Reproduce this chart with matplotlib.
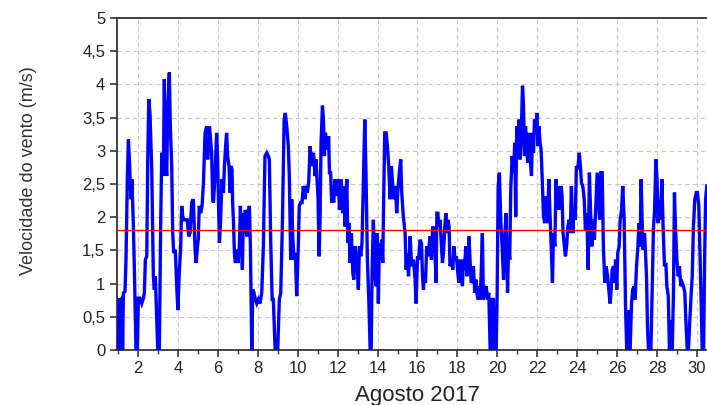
import matplotlib
matplotlib.use("Agg")
import matplotlib.pyplot as plt
from matplotlib.ticker import MultipleLocator, FuncFormatter

plt.rcParams['font.family'] = ['Liberation Sans', 'DejaVu Sans']

# Time (day of August 2017) and wind speed (m/s)
days = [
    1.00, 1.07, 1.10, 1.15, 1.20, 1.23, 1.27, 1.35, 1.40, 1.47, 1.52, 1.57, 1.60, 1.65, 1.70,
    1.77, 1.82, 1.87, 1.90, 1.97, 2.02, 2.10, 2.19, 2.27, 2.32, 2.37, 2.44, 2.49, 2.54, 2.60,
    2.69, 2.77, 2.82, 2.87, 2.94, 2.99, 3.07, 3.14, 3.19, 3.27, 3.32, 3.37, 3.44, 3.49, 3.57,
    3.62, 3.69, 3.74, 3.79, 3.87, 3.94, 4.00, 4.06, 4.14, 4.19, 4.24, 4.31, 4.41, 4.47, 4.54,
    4.61, 4.69, 4.77, 4.86, 4.91, 4.98, 5.02, 5.07, 5.14, 5.21, 5.28, 5.36, 5.44, 5.49, 5.58,
    5.69, 5.74, 5.78, 5.83, 5.89, 5.94, 5.99, 6.04, 6.08, 6.14, 6.21, 6.28, 6.33, 6.39, 6.44,
    6.49, 6.56, 6.61, 6.66, 6.71, 6.74, 6.78, 6.83, 6.88, 6.95, 7.01, 7.08, 7.13, 7.18, 7.23,
    7.28, 7.33, 7.38, 7.45, 7.51, 7.58, 7.63, 7.70, 7.75, 7.81, 7.88, 7.95, 8.03, 8.11, 8.20,
    8.28, 8.36, 8.45, 8.53, 8.58, 8.65, 8.72, 8.78, 8.87, 9.00, 9.08, 9.15, 9.23, 9.32, 9.38,
    9.45, 9.53, 9.58, 9.65, 9.70, 9.75, 9.82, 9.88, 9.95, 10.03, 10.08, 10.15, 10.22, 10.28, 10.37,
    10.42, 10.48, 10.55, 10.62, 10.70, 10.79, 10.87, 10.92,
    11.02, 11.07, 11.12, 11.17, 11.24, 11.29, 11.34, 11.39, 11.45, 11.50, 11.55, 11.59, 11.65,
    11.70, 11.75, 11.80, 11.87, 11.96, 12.04, 12.09, 12.16, 12.21, 12.26, 12.32, 12.37, 12.46,
    12.51, 12.57, 12.62, 12.69, 12.76, 12.81, 12.87, 12.96, 13.04, 13.09, 13.16, 13.22, 13.29,
    13.36, 13.42, 13.49, 13.56, 13.63, 13.68, 13.73, 13.79, 13.86, 13.93, 13.99, 14.04, 14.09,
    14.16, 14.21, 14.26, 14.31, 14.36, 14.43, 14.49, 14.56, 14.63, 14.69, 14.76, 14.83, 14.89,
    14.96, 15.01, 15.09, 15.16, 15.21, 15.29, 15.38, 15.43, 15.49, 15.55, 15.63,
    15.71, 15.80, 15.88, 15.93, 16.00, 16.06, 16.13, 16.20, 16.25, 16.30, 16.35, 16.40, 16.46,
    16.51, 16.58, 16.63, 16.70, 16.76, 16.83, 16.88, 16.93, 16.97, 17.02, 17.07, 17.13, 17.20,
    17.25, 17.30, 17.37, 17.42, 17.47, 17.52, 17.58, 17.63, 17.70, 17.77, 17.82, 17.88, 17.95,
    18.02, 18.07, 18.13, 18.18, 18.25, 18.30, 18.35, 18.42, 18.47, 18.53, 18.58, 18.63, 18.69,
    18.75, 18.80, 18.87, 18.92, 18.97, 19.04, 19.09, 19.14, 19.19, 19.25, 19.30, 19.37, 19.44,
    19.50, 19.57, 19.64, 19.69, 19.74, 19.80, 19.87, 19.94, 19.99, 20.04, 20.10, 20.17, 20.24,
    20.31, 20.37, 20.44, 20.51, 20.56, 20.62, 20.67, 20.74, 20.81, 20.87,
    20.92, 20.97, 21.04, 21.09, 21.14, 21.19, 21.26, 21.31, 21.36, 21.41, 21.47, 21.52, 21.57,
    21.64, 21.71, 21.76, 21.81, 21.86, 21.92, 21.98, 22.03, 22.08, 22.14, 22.19, 22.26, 22.31,
    22.38, 22.44, 22.51, 22.58, 22.64, 22.71, 22.76, 22.81, 22.88, 22.94, 22.99, 23.06, 23.13,
    23.19, 23.24, 23.29, 23.36, 23.41, 23.48, 23.53, 23.60, 23.65, 23.71, 23.78, 23.83, 23.90,
    23.96, 24.03, 24.10, 24.16, 24.21, 24.28, 24.35, 24.41, 24.48, 24.55, 24.61, 24.66, 24.73,
    24.80, 24.86, 24.93, 25.00, 25.05, 25.12, 25.18, 25.25, 25.31, 25.38, 25.45, 25.52, 25.58,
    25.65, 25.70,
    25.75, 25.82, 25.87, 25.92, 25.98, 26.03, 26.10, 26.15, 26.22, 26.28, 26.35, 26.42, 26.48,
    26.53, 26.60, 26.65, 26.72, 26.78, 26.85, 26.90, 26.97, 27.04, 27.09, 27.15, 27.20, 27.25,
    27.30, 27.37, 27.42, 27.47, 27.52, 27.57, 27.69, 27.75, 27.82, 27.87, 27.94, 28.00, 28.05,
    28.12, 28.17, 28.24, 28.30, 28.37, 28.44, 28.49, 28.56, 28.62, 28.69, 28.76, 28.82, 28.87,
    28.92, 28.99, 29.06, 29.12, 29.19, 29.26, 29.32, 29.39, 29.44, 29.51, 29.57, 29.64, 29.71,
    29.76, 29.82, 29.89, 29.96, 30.02, 30.09, 30.14, 30.21, 30.26, 30.33, 30.38, 30.43, 30.49,
]

speed = [
    0.00, 0.78, 0.00, 0.76, 0.78, 0.00, 0.86, 0.88, 1.36, 2.62, 3.17, 2.87, 2.62, 2.27, 2.57,
    1.86, 1.21, 0.45, 0.00, 0.00, 0.78, 0.78, 0.70, 0.78, 0.86, 1.36, 1.41, 2.87, 3.78, 3.57,
    2.72, 1.11, 0.91, 1.11, 0.45, 0.00, 0.00, 1.96, 2.97, 2.62, 4.08, 2.97, 2.62, 3.63, 4.18,
    3.37, 2.77, 1.76, 1.46, 1.51, 0.96, 0.60, 1.11, 1.56, 2.17, 2.01, 1.96, 1.96, 1.96, 1.71,
    1.76, 2.22, 2.27, 1.51, 1.31, 1.56, 1.66, 2.17, 2.06, 2.17, 2.52, 3.27, 3.37, 2.87, 3.37,
    2.97, 2.27, 2.22, 2.47, 2.87, 3.27, 2.87, 2.11, 1.61, 1.96, 2.57, 2.37, 2.77, 3.07, 3.27,
    2.92, 2.77, 2.37, 2.77, 2.72, 2.22, 1.96, 1.46, 1.31, 1.51, 1.31, 1.56, 2.17, 1.76, 1.21,
    2.06, 1.76, 2.11, 1.71, 2.06, 2.17, 1.56, 0.00, 0.91, 0.86, 0.76, 0.70, 0.76, 0.70, 0.86,
    1.56, 2.92, 2.97, 2.92, 2.87, 1.61, 0.76, 0.76, 0.00, 0.00, 0.76, 0.86, 1.86, 3.47, 3.57,
    3.37, 3.07, 2.62, 1.36, 2.27, 1.71, 1.36, 1.46, 0.81, 1.56, 2.17, 2.22, 2.22, 2.47, 2.27,
    2.47, 2.37, 2.52, 3.07, 2.77, 2.97, 2.62, 2.87,
    2.27, 1.41, 1.96, 3.12, 3.68, 3.47, 2.92, 3.27, 3.12, 3.02, 3.22, 2.67, 2.67,
    2.22, 2.47, 2.22, 2.57, 2.32, 2.57, 2.11, 2.57, 2.22, 2.06, 2.47, 1.86, 2.57,
    1.61, 1.91, 1.31, 1.76, 1.16, 1.06, 1.56, 1.36, 0.91, 1.56, 1.41, 1.61, 2.57,
    3.47, 2.67, 1.36, 0.76, 0.00, 0.00, 1.26, 1.96, 1.16, 0.96, 1.76, 0.70, 1.61,
    1.36, 1.66, 1.31, 2.37, 3.27, 3.27, 3.07, 2.77, 2.27, 2.77, 2.47, 2.27, 2.47,
    2.06, 2.37, 2.67, 2.87, 2.37, 2.01, 1.76, 1.21, 1.46, 1.11, 1.71,
    1.26, 1.36, 1.06, 0.70, 1.41, 1.36, 1.66, 1.61, 1.11, 0.91, 1.16, 1.01, 1.56,
    1.41, 1.56, 1.71, 1.36, 1.86, 1.81, 1.46, 1.01, 2.06, 2.06, 1.86, 1.96, 1.56,
    1.31, 1.46, 1.86, 2.06, 1.76, 1.96, 1.86, 1.26, 1.36, 1.21, 1.56, 1.36, 1.41,
    1.16, 1.01, 1.36, 1.26, 0.96, 1.36, 1.21, 1.56, 1.11, 1.26, 1.71, 1.36, 1.01,
    1.06, 1.26, 0.86, 1.06, 0.86, 0.76, 0.96, 0.76, 1.16, 1.76, 0.76, 0.91, 0.96,
    0.76, 0.86, 0.00, 0.00, 0.76, 0.76, 0.00, 0.00, 0.86, 2.47, 2.67, 1.96, 1.56,
    1.06, 1.71, 2.06, 0.86, 1.56, 1.36, 2.42, 2.92, 2.67, 3.12,
    2.01, 3.37, 3.07, 3.47, 2.87, 3.17, 3.98, 3.68, 2.92, 3.37, 3.07, 2.82, 3.27,
    2.92, 2.62, 3.27, 2.97, 3.47, 3.27, 3.57, 3.07, 3.37, 3.12, 3.02, 2.47, 2.01,
    1.91, 2.31, 1.91, 2.57, 2.01, 1.46, 1.01, 1.76, 1.56, 2.57, 2.11, 2.47, 2.11,
    2.47, 2.32, 1.76, 1.56, 1.41, 1.61, 1.86, 1.96, 1.76, 2.47, 1.76, 2.06, 1.96,
    2.77, 2.72, 2.97, 2.77, 2.52, 2.47, 2.27, 1.81, 2.06, 1.21, 2.67, 2.17, 1.56,
    1.96, 1.66, 2.17, 2.67, 2.37, 1.96, 2.67, 2.67, 1.56, 1.01, 1.26, 1.11, 0.91,
    0.70, 0.91,
    1.21, 1.26, 1.01, 1.36, 0.91, 1.46, 1.56, 1.96, 2.11, 2.47, 1.96, 0.65, 0.00,
    0.60, 0.00, 0.00, 0.70, 0.91, 0.96, 0.76, 1.26, 1.56, 1.91, 1.56, 2.57, 1.96,
    1.51, 1.76, 1.46, 1.11, 0.35, 0.00, 0.00, 0.86, 1.86, 2.06, 2.87, 2.57, 1.91,
    2.27, 1.96, 2.57, 1.86, 1.26, 1.31, 0.96, 0.81, 0.00, 0.45, 0.00, 0.86, 2.37,
    1.86, 1.36, 1.11, 1.26, 0.96, 1.01, 0.96, 0.86, 0.45, 0.00, 0.00, 0.45, 0.86,
    1.11, 1.86, 2.27, 2.37, 2.37, 2.17, 1.56, 0.70, 0.00, 0.00, 1.36, 2.27, 2.47,
]

mean_speed = 1.8
x_ticks = [2, 4, 6, 8, 10, 12, 14, 16, 18, 20, 22, 24, 26, 28, 30]
x_label = "Agosto 2017"
y_label = "Velocidade do vento (m/s)"

fig = plt.figure(figsize=(7.07, 4.05), dpi=100)
ax = fig.add_axes([0.1655, 0.136, 0.8345, 0.8195])

ax.plot(days, speed, color='#0000ff', lw=2.4, solid_joinstyle='miter', zorder=3)
ax.axhline(mean_speed, color='#ff0000', lw=1.0, zorder=4)

ax.set_xlim(0.95, 30.5)
ax.set_ylim(0, 5)
ax.set_xticks(x_ticks)
ax.xaxis.set_minor_locator(MultipleLocator(1))
ax.yaxis.set_major_locator(MultipleLocator(0.5))
ax.yaxis.set_major_formatter(FuncFormatter(lambda v, p: ('%g' % v).replace('.', ',')))

ax.grid(True, which='major', color='#c8c8c8', lw=0.8, linestyle=(0, (4, 3)))
ax.set_axisbelow(True)

for s in ['left', 'bottom', 'top']:
    ax.spines[s].set_color('#333333')
    ax.spines[s].set_linewidth(1.3)
ax.spines['right'].set_visible(False)

ax.tick_params(axis='both', which='major', direction='out', length=5, width=1.2,
               color='#333333', labelsize=12, labelcolor='#222222')
ax.tick_params(axis='x', which='minor', direction='out', length=3, width=1.0, color='#333333')
ax.tick_params(axis='x', which='major', pad=3)

ax.set_xlabel(x_label, fontsize=16, color='#222222')
ax.xaxis.set_label_coords(0.51, -0.136)
ax.xaxis.label.set_va('center')
ax.set_ylabel(y_label, fontsize=13, color='#333333')
ax.yaxis.set_label_coords(-0.136, 0.54)

fig.savefig('out.png', dpi=100)
